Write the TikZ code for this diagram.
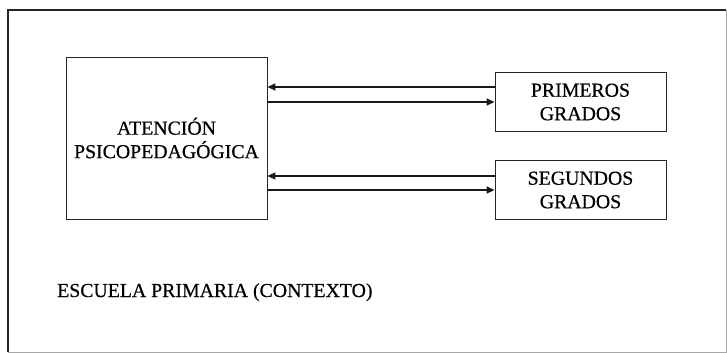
\documentclass[tikz,border=0pt]{standalone}
\usepackage{fontspec}
\setmainfont{Liberation Serif}[FakeBold=0.5]
\usepackage{tikz}
\usetikzlibrary{arrows.meta, positioning}
\tikzset{
  block/.style={rectangle, draw=black!85, line width=0.9pt, align=center, inner sep=0pt,
                font=\fontsize{19.8}{23.5}\selectfont},
  arrowline/.style={-{Triangle[length=8pt, width=7pt]}, line width=1.6pt, draw=black!90},
  frame/.style={draw=black!85, line width=1.6pt},
}
\begin{document}
\begin{tikzpicture}[x=1pt, y=-1pt]
\useasboundingbox (0,0) rectangle (727,353);
\draw[frame] (8,352) -- (8,10) -- (726,10);
\draw[black!35, line width=0.6pt] (726,10) -- (726,352) -- (8,352);
\node[block, minimum width=201pt, minimum height=162pt] (atencion) at (166.5,138)
  {ATENCIÓN\\PSICOPEDAGÓGICA};
\node[block, minimum width=171pt, minimum height=59pt] (primeros) at (580.5,102)
  {PRIMEROS\\GRADOS};
\node[block, minimum width=171pt, minimum height=59pt] (segundos) at (580.5,190)
  {SEGUNDOS\\GRADOS};
\node[anchor=base west, inner sep=0pt, font=\fontsize{19.8}{23.5}\selectfont] (escuela) at (57,297)
  {ESCUELA PRIMARIA (CONTEXTO)};
\coordinate (p1) at ([yshift=15pt]primeros.west);
\coordinate (s1) at ([yshift=14pt]segundos.west);
\draw[arrowline] (p1) -- (atencion.east |- p1);
\draw[arrowline] (atencion.east |- primeros.west) -- (primeros.west);
\draw[arrowline] (s1) -- (atencion.east |- s1);
\draw[arrowline] (atencion.east |- segundos.west) -- (segundos.west);
\end{tikzpicture}
\end{document}
